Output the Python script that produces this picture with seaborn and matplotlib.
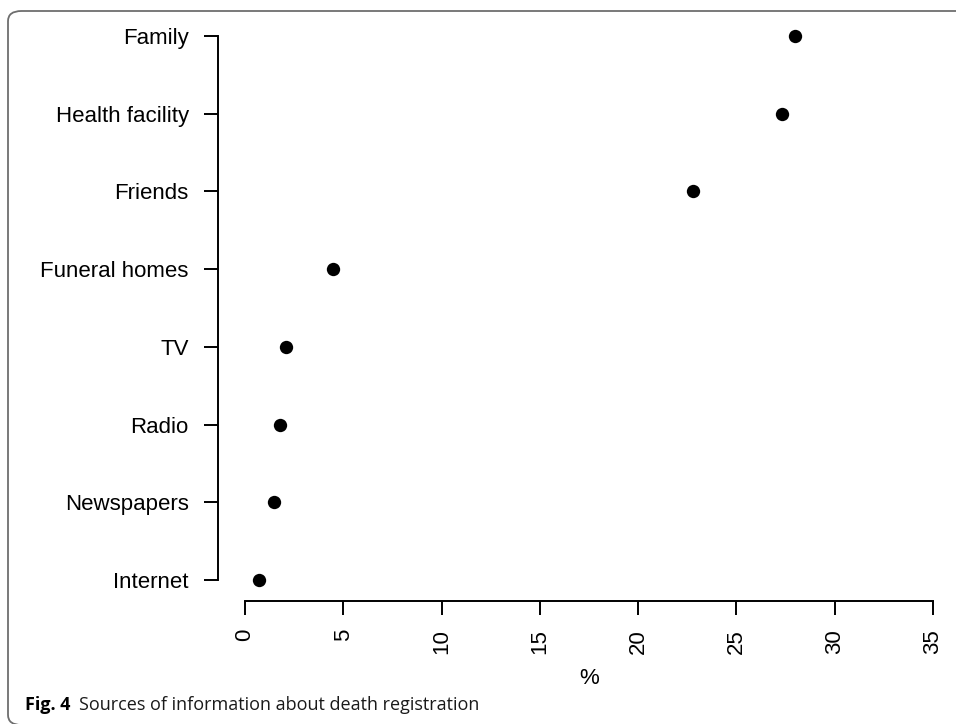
import matplotlib
matplotlib.use("Agg")
import matplotlib.pyplot as plt
from matplotlib.patches import FancyBboxPatch
import seaborn as sns
import pandas as pd

# Sources of information about death registration (% of respondents)
sources = ["Family", "Health facility", "Friends", "Funeral homes",
           "TV", "Radio", "Newspapers", "Internet"]
percent = [28.0, 27.3, 22.8, 4.5, 2.1, 1.8, 1.5, 0.7]
x_ticks = [0, 5, 10, 15, 20, 25, 30, 35]

df = pd.DataFrame({"source": sources, "percent": percent})

sns.set_theme(style="white")
plt.rcParams["font.family"] = ["Liberation Sans", "DejaVu Sans"]

W, H = 956, 724
fig = plt.figure(figsize=(W / 100, H / 100), dpi=100)

# axes box in pixel units (left, top, right, bottom)
L, T, R, B = 218, 25, 945, 601
ax = fig.add_axes([L / W, 1 - B / H, (R - L) / W, (B - T) / H])

sns.stripplot(data=df, x="percent", y="source", order=sources,
              jitter=False, color="black", size=9.6, linewidth=0, ax=ax)

px_per_unit = (933 - 245) / 35.0
ax.set_xlim((L - 245) / px_per_unit, (R - 245) / px_per_unit)
row_px = (580 - 36) / 7.0
ax.set_ylim(7 + (B - 580) / row_px, -(36 - T) / row_px)

for s in ["top", "right"]:
    ax.spines[s].set_visible(False)
for s in ["left", "bottom"]:
    ax.spines[s].set_color("black")
    ax.spines[s].set_linewidth(1.4)
ax.spines["bottom"].set_bounds(0, 35)
ax.spines["left"].set_bounds(0, 7)

ax.set_xticks(x_ticks)
ax.set_xticklabels([str(v) for v in x_ticks], rotation=90, va="top")
ax.tick_params(axis="both", which="both", length=10, width=1.4,
               color="black", labelcolor="black", labelsize=16, pad=10,
               bottom=True, left=True)
ax.tick_params(axis="y", pad=11)

ax.set_xlabel("%", fontsize=16, color="black", labelpad=10)
ax.xaxis.set_label_coords((589 - L) / (R - L), -(677 - B + 2) / (B - T),
                          transform=ax.transAxes)
ax.xaxis.label.set_va("center")
ax.set_ylabel("")
ax.grid(False)

# rounded frame around the figure panel
frame = FancyBboxPatch((8 / W, 1 - 725 / H), (990 - 8) / W, (725 - 11) / H,
                       boxstyle="round,pad=0,rounding_size=0.014",
                       transform=fig.transFigure, fill=False,
                       edgecolor="#6e6e6e", linewidth=1.3, clip_on=False)
fig.patches.append(frame)

# caption
cap_font = ["Open Sans", "DejaVu Sans"]
cap1 = fig.text(25 / W, 1 - 710 / H, "Fig. 4", fontsize=13, fontweight="bold",
                family=cap_font, color="black", va="baseline")
ax.annotate("Sources of information about death registration",
            xy=(1, 0), xycoords=cap1, xytext=(6.5, 0), textcoords="offset points",
            fontsize=13, family=cap_font, color="#1a1a1a",
            va="bottom", ha="left", annotation_clip=False)

fig.savefig("out.png", dpi=100)
